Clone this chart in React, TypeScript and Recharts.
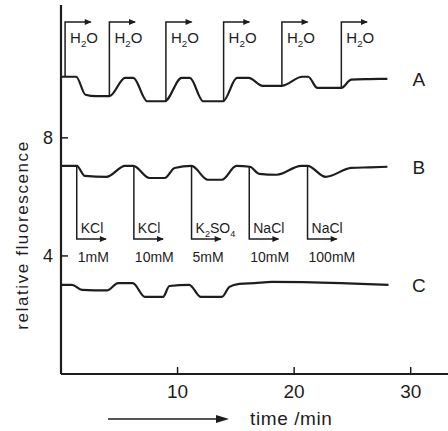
import React from "react";
import { ComposedChart, Line, XAxis, YAxis, ReferenceDot } from "recharts";

// trace A: water pulses
const timeA = [0, 1.3, 2.1, 3.0, 4.15, 5.5, 6.2, 7.4, 8.9, 10.35, 11.05, 12.2, 13.9, 15.1, 16.1, 17.3, 18.9, 20.7, 21.2, 22.0, 24.05, 24.9, 26.5, 28.0];
const valuesA = [10.07, 10.07, 9.46, 9.41, 9.41, 10.03, 10.03, 9.24, 9.24, 10.03, 10.03, 9.24, 9.24, 10.03, 10.03, 9.76, 9.76, 10.07, 10.07, 9.69, 9.69, 9.97, 9.99, 10.0];

// trace B: salt pulses
const timeB = [0, 1.35, 2.05, 3.9, 5.5, 6.2, 7.6, 8.9, 9.75, 11.2, 12.6, 13.8, 15.05, 16.2, 17.0, 18.5, 20.6, 21.15, 22.7, 24.9, 26.5, 28.0];
const valuesB = [7.05, 7.05, 6.71, 6.68, 7.05, 7.05, 6.64, 6.64, 6.98, 7.05, 6.58, 6.58, 7.05, 7.02, 6.78, 6.75, 7.05, 7.05, 6.68, 6.98, 7.0, 7.02];

// trace C
const timeC = [0, 0.95, 1.8, 3.95, 4.9, 6.15, 7.2, 8.75, 9.3, 11.0, 12.0, 13.8, 14.45, 15.3, 16.6, 18.1, 24.0, 28.1];
const valuesC = [3.02, 3.02, 2.85, 2.83, 3.08, 3.08, 2.61, 2.61, 2.98, 3.02, 2.61, 2.61, 2.95, 3.05, 3.08, 3.12, 3.08, 3.02];

const traceNames = ["A", "B", "C"];

// injections
const h2oTimes = [0.35, 4.15, 9.0, 13.95, 18.95, 24.05];
const h2oFrom = [10.07, 9.41, 9.24, 9.24, 9.76, 9.69];
const saltTimes = [1.35, 6.25, 11.2, 16.15, 21.15];
const saltFrom = [7.05, 7.05, 7.05, 7.02, 7.05];
const saltNames = ["KCl", "KCl", "K2SO4", "NaCl", "NaCl"];
const saltConc = ["1mM", "10mM", "5mM", "10mM", "100mM"];

const xTicks = [10, 20, 30];
const yTicks = [4, 8];

const INK = "#1d1d1d";
const FONT = "'Liberation Sans', Arial, sans-serif";

const H2O_TOP = 11.92;
const H2O_LABEL = 11.38;
const SALT_BOTTOM = 4.57;
const SALT_LABEL = 4.95;
const CONC_LABEL = 3.96;
const ARROW_H2O = 2.2;
const ARROW_SALT = 2.5;
const NAME_T = 30.7;

const toSeries = (ts: number[], vs: number[]) => ts.map((t, i) => ({ t, v: vs[i] }));
const series = [toSeries(timeA, valuesA), toSeries(timeB, valuesB), toSeries(timeC, valuesC)];

const h2oBracket = h2oTimes.flatMap((t, i) => [
  { t, v: h2oFrom[i] },
  { t, v: H2O_TOP },
  { t: t + ARROW_H2O, v: H2O_TOP, tip: true },
  { t: t + ARROW_H2O, v: null },
]);
const saltBracket = saltTimes.flatMap((t, i) => [
  { t, v: saltFrom[i] },
  { t, v: SALT_BOTTOM },
  { t: t + ARROW_SALT, v: SALT_BOTTOM, tip: true },
  { t: t + ARROW_SALT, v: null },
]);

function ArrowDot(props: any) {
  const { cx, cy, payload, index } = props;
  if (!payload?.tip || cx == null || cy == null) return <g key={`d${index}`} />;
  return (
    <polygon
      key={`d${index}`}
      points={`${cx + 1},${cy} ${cx - 6},${cy - 3} ${cx - 6},${cy + 3}`}
      fill={INK}
    />
  );
}

// digits become subscripts
function Formula({ x, y, text, size }: { x: number; y: number; text: string; size: number }) {
  const parts = text.match(/\d+|\D+/g) || [];
  return (
    <text x={x} y={y} fontSize={size} fontFamily={FONT} fill={INK}>
      {parts.map((p, i) =>
        /\d/.test(p) ? (
          <tspan key={i} dy={4} fontSize={size * 0.65}>{p}</tspan>
        ) : (
          <tspan key={i} dy={i > 0 ? -4 : 0}>{p}</tspan>
        )
      )}
    </text>
  );
}

function XTick({ x, y, payload }: any) {
  return (
    <g>
      <line x1={x} x2={x} y1={y} y2={y - 7} stroke={INK} strokeWidth={1.5} />
      <text x={x} y={y + 24} textAnchor="middle" fontSize={19} fontFamily={FONT} fill={INK}>
        {payload.value}
      </text>
    </g>
  );
}

function YTick({ x, y, payload }: any) {
  return (
    <g>
      <line x1={x} x2={x + 7} y1={y} y2={y} stroke={INK} strokeWidth={1.5} />
      <text x={x - 13} y={y + 6} textAnchor="middle" fontSize={18} fontFamily={FONT} fill={INK}>
        {payload.value}
      </text>
    </g>
  );
}

function TimeTitle({ viewBox }: any) {
  const x0 = viewBox.x + 47;
  const yy = viewBox.y + 45;
  return (
    <g>
      <line x1={x0} x2={x0 + 112} y1={yy} y2={yy} stroke={INK} strokeWidth={1.5} />
      <polygon points={`${x0 + 121},${yy} ${x0 + 108},${yy - 4} ${x0 + 108},${yy + 4}`} fill={INK} />
      <text x={x0 + 142} y={yy + 6} fontSize={19} fontFamily={FONT} fill={INK} letterSpacing={0.6}>
        time /min
      </text>
    </g>
  );
}

function FluoTitle({ viewBox }: any) {
  const cx = viewBox.x + 28;
  const cy = 235;
  return (
    <text
      x={cx}
      y={cy}
      transform={`rotate(-90, ${cx}, ${cy})`}
      textAnchor="middle"
      fontSize={17}
      fontFamily={FONT}
      fill={INK}
      letterSpacing={1.6}
    >
      relative fluorescence
    </text>
  );
}

export default function App() {
  return (
    <div style={{ position: "absolute", left: 0, top: 0, background: "#fff" }}>
      <ComposedChart width={448} height={431} margin={{ top: 5, right: 0, left: 0, bottom: 27 }}>
        <XAxis
          type="number"
          dataKey="t"
          domain={[0, 33.2]}
          allowDataOverflow
          ticks={xTicks}
          interval={0}
          tickSize={0}
          tickMargin={0}
          tickLine={false}
          tick={<XTick />}
          height={30}
          axisLine={{ stroke: INK, strokeWidth: 2.2 }}
          label={<TimeTitle />}
        />
        <YAxis
          type="number"
          dataKey="v"
          domain={[0, 12.5]}
          allowDataOverflow
          ticks={yTicks}
          interval={0}
          tickSize={0}
          tickMargin={0}
          tickLine={false}
          tick={<YTick />}
          width={61}
          axisLine={{ stroke: INK, strokeWidth: 2.2 }}
          label={<FluoTitle />}
        />
        {series.map((d, i) => (
          <Line
            key={traceNames[i]}
            data={d}
            dataKey="v"
            type="monotone"
            stroke={INK}
            strokeWidth={2.2}
            dot={false}
            activeDot={false}
            isAnimationActive={false}
          />
        ))}
        <Line
          data={h2oBracket}
          dataKey="v"
          type="linear"
          stroke={INK}
          strokeWidth={1.5}
          dot={ArrowDot}
          activeDot={false}
          connectNulls={false}
          isAnimationActive={false}
        />
        <Line
          data={saltBracket}
          dataKey="v"
          type="linear"
          stroke={INK}
          strokeWidth={1.5}
          dot={ArrowDot}
          activeDot={false}
          connectNulls={false}
          isAnimationActive={false}
        />
        {h2oTimes.map((t, i) => (
          <ReferenceDot
            key={`h${i}`}
            x={t}
            y={H2O_LABEL}
            shape={(p: any) => <Formula x={p.cx + 5} y={p.cy + 5} text="H2O" size={15} />}
          />
        ))}
        {saltTimes.map((t, i) => (
          <ReferenceDot
            key={`s${i}`}
            x={t}
            y={SALT_LABEL}
            shape={(p: any) => <Formula x={p.cx + 4} y={p.cy + 5} text={saltNames[i]} size={14} />}
          />
        ))}
        {saltTimes.map((t, i) => (
          <ReferenceDot
            key={`c${i}`}
            x={t}
            y={CONC_LABEL}
            shape={(p: any) => (
              <text x={p.cx + 1} y={p.cy + 5} fontSize={14} fontFamily={FONT} fill={INK}>
                {saltConc[i]}
              </text>
            )}
          />
        ))}
        {series.map((d, i) => (
          <ReferenceDot
            key={`n${i}`}
            x={NAME_T}
            y={d[d.length - 1].v}
            shape={(p: any) => (
              <text x={p.cx} y={p.cy + 7} textAnchor="middle" fontSize={19} fontFamily={FONT} fill={INK}>
                {traceNames[i]}
              </text>
            )}
          />
        ))}
      </ComposedChart>
    </div>
  );
}
